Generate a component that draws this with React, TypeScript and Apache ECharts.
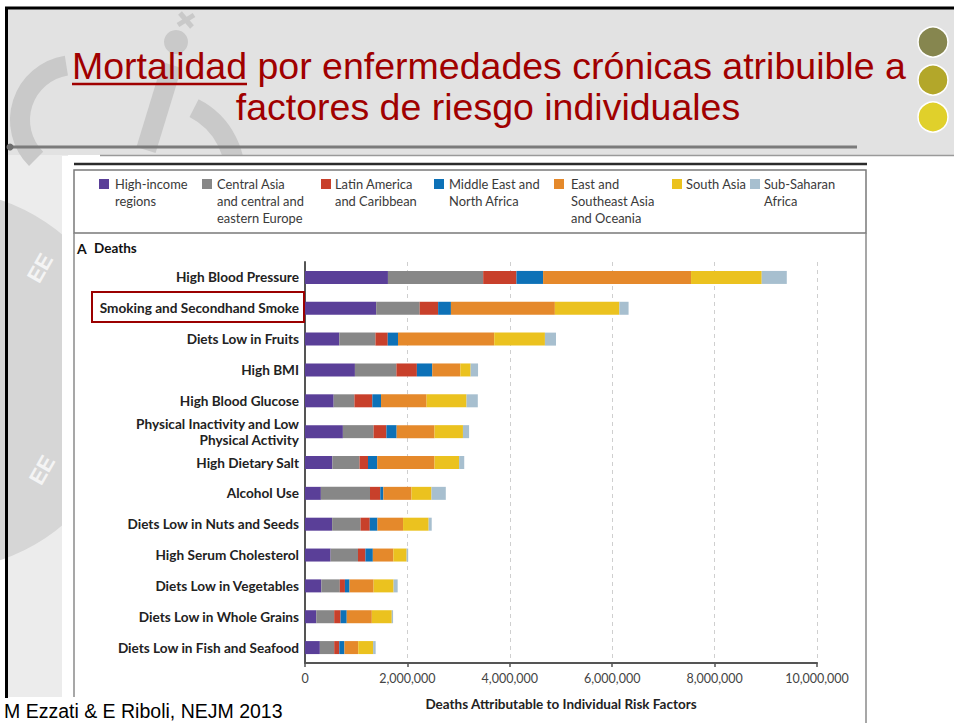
import React, { useEffect, useRef } from "react";
import * as echarts from "echarts";

const categories = [
  "High Blood Pressure",
  "Smoking and Secondhand Smoke",
  "Diets Low in Fruits",
  "High BMI",
  "High Blood Glucose",
  "Physical Inactivity and Low\nPhysical Activity",
  "High Dietary Salt",
  "Alcohol Use",
  "Diets Low in Nuts and Seeds",
  "High Serum Cholesterol",
  "Diets Low in Vegetables",
  "Diets Low in Whole Grains",
  "Diets Low in Fish and Seafood",
];

const highIncome = [1620000, 1390000, 670000, 975000, 560000, 740000, 535000, 310000, 530000, 500000, 320000, 220000, 290000];
const centralAsia = [1860000, 850000, 706000, 810000, 405000, 600000, 530000, 960000, 555000, 535000, 360000, 350000, 280000];
const latinAmerica = [650000, 360000, 240000, 400000, 350000, 250000, 165000, 200000, 180000, 145000, 100000, 125000, 100000];
const middleEast = [520000, 250000, 200000, 300000, 170000, 200000, 180000, 60000, 150000, 145000, 90000, 120000, 100000];
const eastAsia = [2890000, 2030000, 1880000, 550000, 890000, 740000, 1120000, 550000, 500000, 400000, 470000, 490000, 270000];
const southAsia = [1380000, 1260000, 990000, 200000, 780000, 555000, 480000, 390000, 500000, 260000, 390000, 390000, 290000];
const subSaharan = [490000, 180000, 216000, 145000, 220000, 120000, 100000, 280000, 60000, 30000, 80000, 25000, 50000];

const seriesNames = [
  "High-income regions",
  "Central Asia and central and eastern Europe",
  "Latin America and Caribbean",
  "Middle East and North Africa",
  "East and Southeast Asia and Oceania",
  "South Asia",
  "Sub-Saharan Africa",
];
const legendLabels = [
  "High-income\nregions",
  "Central Asia\nand central and\neastern Europe",
  "Latin America\nand Caribbean",
  "Middle East and\nNorth Africa",
  "East and\nSoutheast Asia\nand Oceania",
  "South Asia",
  "Sub-Saharan\nAfrica",
];
const seriesData = [highIncome, centralAsia, latinAmerica, middleEast, eastAsia, southAsia, subSaharan];
const colors = ["#5a3f98", "#878787", "#c8402b", "#0d71b7", "#e5892b", "#ebc21f", "#a7bfcf"];

const xTicks = [0, 2000000, 4000000, 6000000, 8000000, 10000000];

const titleLine1Start = "Mortalidad";
const titleLine1Rest = " por enfermedades crónicas atribuible a";
const titleLine2 = "factores de riesgo individuales";
const sourceText = "M Ezzati & E Riboli, NEJM 2013";
const axisName = "Deaths Attributable to Individual Risk Factors";

const legendSquareX = [99, 202, 321, 434, 554, 672, 750];
const legendTextX = [115, 217, 335, 449, 571, 686, 764];

const chartFont = "Lato, 'Open Sans', sans-serif";
const slideFont = "'Liberation Sans', Arial, sans-serif";

export default function App() {
  const ref = useRef<HTMLDivElement>(null);
  useEffect(() => {
    if (!ref.current) return;
    const chart = echarts.init(ref.current, null, { renderer: "svg" });

    const graphics: any[] = [];
    // slide header background
    graphics.push({ type: "rect", z: -20, shape: { x: 8, y: 9, width: 946, height: 146 }, style: { fill: "#e2e2e2" } });
    // left strip background
    graphics.push({ type: "rect", z: -20, shape: { x: 8, y: 155, width: 60, height: 542 }, style: { fill: "#ececec" } });
    // watermark shapes
    const wm = "#c9c9c9";
    graphics.push({ type: "arc", z: -19, shape: { cx: 75, cy: 120, r: 55, startAngle: Math.PI * 0.75, endAngle: Math.PI * 1.45 }, style: { stroke: wm, lineWidth: 20, fill: "none" } });
    graphics.push({ type: "circle", z: -19, shape: { cx: 176, cy: 42, r: 12 }, style: { fill: wm } });
    graphics.push({ type: "line", z: -19, shape: { x1: 172, y1: 65, x2: 146, y2: 150 }, style: { stroke: wm, lineWidth: 20 } });
    graphics.push({ type: "line", z: -19, shape: { x1: 180, y1: 13, x2: 192, y2: 27 }, style: { stroke: wm, lineWidth: 5 } });
    graphics.push({ type: "line", z: -19, shape: { x1: 194, y1: 15, x2: 178, y2: 25 }, style: { stroke: wm, lineWidth: 5 } });
    graphics.push({ type: "arc", z: -19, shape: { cx: 160, cy: 175, r: 75, startAngle: -Math.PI * 0.35, endAngle: Math.PI * 0.05 }, style: { stroke: wm, lineWidth: 20, fill: "none" } });
    graphics.push({ type: "circle", z: -19, shape: { cx: -60, cy: 380, r: 190 }, style: { fill: "#d6d6d6" } });
    graphics.push({ type: "text", z: -18, x: 40, y: 268, rotation: Math.PI / 3, style: { text: "EE", fill: "#f4f4f4", font: "bold 22px " + slideFont, textAlign: "center", textVerticalAlign: "middle" } });
    graphics.push({ type: "text", z: -18, x: 42, y: 470, rotation: Math.PI / 3, style: { text: "EE", fill: "#f4f4f4", font: "bold 22px " + slideFont, textAlign: "center", textVerticalAlign: "middle" } });
    // image (white) panel
    graphics.push({ type: "rect", z: -15, shape: { x: 62, y: 156, width: 806, height: 567 }, style: { fill: "#ffffff" } });
    graphics.push({ type: "line", z: -14, shape: { x1: 100, y1: 155.5, x2: 954, y2: 155.5 }, style: { stroke: "#9a9a9a", lineWidth: 1.5 } });
    // black frame
    graphics.push({ type: "line", z: -10, shape: { x1: 5, y1: 8, x2: 954, y2: 8 }, style: { stroke: "#000", lineWidth: 3 } });
    graphics.push({ type: "line", z: -10, shape: { x1: 6.5, y1: 7, x2: 6.5, y2: 698 }, style: { stroke: "#000", lineWidth: 3 } });
    // divider line
    graphics.push({ type: "line", z: -10, shape: { x1: 9, y1: 147, x2: 857, y2: 147 }, style: { stroke: "#7b7b7b", lineWidth: 3 } });
    graphics.push({ type: "circle", z: -10, shape: { cx: 10, cy: 147, r: 3.5 }, style: { fill: "#6e6e6e" } });
    // title
    graphics.push({ type: "text", z: 5, x: 72, y: 66, style: { text: titleLine1Start + titleLine1Rest, fill: "#a00000", font: "37.5px " + slideFont, textAlign: "left", textVerticalAlign: "middle" } });
    graphics.push({ type: "line", z: 5, shape: { x1: 72, y1: 84, x2: 247, y2: 84 }, style: { stroke: "#a00000", lineWidth: 2.5 } });
    graphics.push({ type: "text", z: 5, x: 488, y: 107, style: { text: titleLine2, fill: "#a00000", font: "37.5px " + slideFont, textAlign: "center", textVerticalAlign: "middle" } });
    // circles
    [["#86864f", 42], ["#b3a72a", 80], ["#e0d02b", 117]].forEach(([c, cy]) => {
      graphics.push({ type: "circle", z: 5, shape: { cx: 933, cy: cy as number, r: 15 }, style: { fill: c as string, stroke: "#ffffff", lineWidth: 1.5 } });
    });
    // chart panel frame
    graphics.push({ type: "line", z: -5, shape: { x1: 74, y1: 164, x2: 867, y2: 164 }, style: { stroke: "#2a2a2a", lineWidth: 2.5 } });
    graphics.push({ type: "rect", z: -5, shape: { x: 74, y: 170, width: 792, height: 63 }, style: { fill: "none", stroke: "#7a7a7a", lineWidth: 1.5 } });
    graphics.push({ type: "line", z: -5, shape: { x1: 74, y1: 233, x2: 74, y2: 697 }, style: { stroke: "#8a8a8a", lineWidth: 1.5 } });
    graphics.push({ type: "line", z: -5, shape: { x1: 866, y1: 233, x2: 866, y2: 723 }, style: { stroke: "#8a8a8a", lineWidth: 1.5 } });
    // legend
    legendLabels.forEach((lab, i) => {
      graphics.push({ type: "rect", z: 5, shape: { x: legendSquareX[i], y: 179, width: 10, height: 10 }, style: { fill: colors[i] } });
      graphics.push({ type: "text", z: 5, x: legendTextX[i], y: 175, style: { text: lab, fill: "#3a3a3a", font: "12.9px " + chartFont, lineHeight: 17, textAlign: "left", textVerticalAlign: "top" } });
    });
    // panel heading
    graphics.push({ type: "text", z: 5, x: 77, y: 248, style: { text: "A", fill: "#111", font: "bold 14px " + chartFont, textVerticalAlign: "middle" } });
    graphics.push({ type: "text", z: 5, x: 94, y: 248, style: { text: "Deaths", fill: "#111", font: "bold 13.5px " + chartFont, textVerticalAlign: "middle" } });
    // highlight box
    graphics.push({ type: "rect", z: 5, shape: { x: 92, y: 292, width: 212, height: 30 }, style: { fill: "none", stroke: "#9b0000", lineWidth: 2 } });
    // source text
    graphics.push({ type: "rect", z: 5, shape: { x: 0, y: 698, width: 290, height: 25 }, style: { fill: "#ffffff" } });
    graphics.push({ type: "text", z: 6, x: 4, y: 711, style: { text: sourceText, fill: "#000", font: "19.5px " + slideFont, textVerticalAlign: "middle" } });

    chart.setOption({
      animation: false,
      backgroundColor: "#ffffff",
      textStyle: { fontFamily: chartFont },
      grid: { left: 305, right: 137, top: 262, bottom: 60, containLabel: false },
      xAxis: {
        type: "value",
        min: xTicks[0],
        max: xTicks[xTicks.length - 1],
        interval: xTicks[1] - xTicks[0],
        name: axisName,
        nameLocation: "middle",
        nameGap: 34,
        nameTextStyle: { fontFamily: chartFont, fontWeight: "bold", fontSize: 13.5, color: "#222" },
        axisLine: { show: true, lineStyle: { color: "#555", width: 2 } },
        axisTick: { show: true, length: 4, lineStyle: { color: "#555", width: 1.5 } },
        axisLabel: {
          margin: 9,
          fontFamily: chartFont,
          fontSize: 12.5,
          color: "#444",
          formatter: (v: number) => v.toLocaleString("en-US"),
        },
        splitLine: { show: true, lineStyle: { color: "#cfcfcf", type: [4, 4], width: 1 } },
      },
      yAxis: {
        type: "category",
        inverse: true,
        data: categories,
        axisLine: { show: true, lineStyle: { color: "#555", width: 2 } },
        axisTick: { show: false },
        axisLabel: {
          margin: 6,
          fontFamily: chartFont,
          fontWeight: "bold",
          fontSize: 13.6,
          color: "#222",
          lineHeight: 16,
          align: "right",
        },
      },
      series: seriesNames.map((name, i) => ({
        name,
        type: "bar",
        stack: "total",
        barWidth: 13,
        data: seriesData[i],
        itemStyle: { color: colors[i] },
      })),
      graphic: { elements: graphics },
    });
    return () => chart.dispose();
  }, []);
  return <div ref={ref} style={{ position: "absolute", left: 0, top: 0, width: 954, height: 723 }} />;
}
